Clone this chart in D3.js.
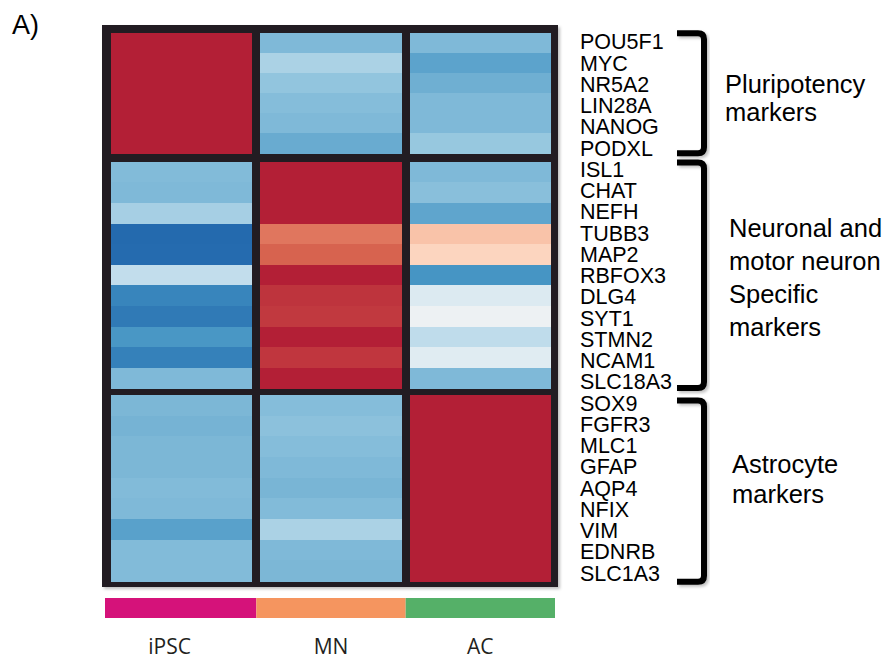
<!DOCTYPE html>
<html>
<head>
<meta charset="utf-8">
<script src="https://cdn.jsdelivr.net/npm/d3@7"></script>
<style>
  html, body { margin: 0; padding: 0; background: #ffffff; }
  svg { display: block; }
</style>
</head>
<body>
<svg id="chart" width="896" height="662"></svg>
<script>
// Samples (columns)
const samples = ["iPSC", "MN", "AC"];

// Marker genes, grouped by cell type
const pluripotencyGenes = ["POU5F1", "MYC", "NR5A2", "LIN28A", "NANOG", "PODXL"];
const neuronalGenes = ["ISL1", "CHAT", "NEFH", "TUBB3", "MAP2", "RBFOX3", "DLG4", "SYT1", "STMN2", "NCAM1", "SLC18A3"];
const astrocyteGenes = ["SOX9", "FGFR3", "MLC1", "GFAP", "AQP4", "NFIX", "VIM", "EDNRB", "SLC1A3"];

// Scaled expression per sample, in gene order (pluripotency, neuronal, astrocyte)
const iPSCValues = [
  1, 1, 1, 1, 1, 1,
  -0.55, -0.56, -0.42, -0.98, -0.97, -0.31, -0.83, -0.89, -0.73, -0.85, -0.56,
  -0.57, -0.59, -0.57, -0.57, -0.55, -0.56, -0.68, -0.55, -0.55
];
const MNValues = [
  -0.56, -0.40, -0.50, -0.54, -0.56, -0.63,
  1, 1, 1, 0.67, 0.74, 1, 0.92, 0.90, 1, 0.91, 1,
  -0.54, -0.52, -0.54, -0.56, -0.58, -0.55, -0.40, -0.56, -0.57
];
const ACValues = [
  -0.56, -0.67, -0.61, -0.56, -0.56, -0.48,
  -0.56, -0.53, -0.66, 0.36, 0.28, -0.74, -0.17, -0.05, -0.32, -0.14, -0.56,
  1, 1, 1, 1, 1, 1, 1, 1, 1
];

// Group captions beside the brackets
const groupLabels = [
  ["Pluripotency", "markers"],
  ["Neuronal and", "motor neuron", "Specific", "markers"],
  ["Astrocyte", "markers"]
];

const groups = [pluripotencyGenes, neuronalGenes, astrocyteGenes];
const allGenes = groups.flat();
const valuesBySample = [iPSCValues, MNValues, ACValues];

const svg = d3.select("#chart");
const frameColor = "#231f20";

// Diverging blue-white-red colour scale
const color = d3.scaleLinear()
  .domain([-1, -0.75, -0.5, -0.25, 0, 0.25, 0.5, 0.75, 1])
  .range(["#2166ac", "#4393c3", "#92c5de", "#d1e5f0", "#f4f4f4", "#fddbc7", "#f4a582", "#d6604d", "#b31f36"])
  .clamp(true);

// Soft shadow used by the frame and brackets
const defs = svg.append("defs");
const shadow = defs.append("filter").attr("id", "shadow")
  .attr("x", "-10%").attr("y", "-10%").attr("width", "130%").attr("height", "130%");
shadow.append("feDropShadow")
  .attr("dx", 2).attr("dy", 2).attr("stdDeviation", 1.5)
  .attr("flood-color", "#000").attr("flood-opacity", 0.25);

// Column scale
const x = d3.scaleBand().domain(samples).range([111, 551]).paddingInner(0.054);

// One vertical band scale per gene group (groups separated by frame bars)
const sectionRanges = [[33, 153.3], [161.7, 388.3], [395, 581]];
const yScales = groups.map((g, i) => d3.scaleBand().domain(g).range(sectionRanges[i]));

// Dark frame behind the cells
svg.append("rect")
  .attr("x", x.range()[0] - 9)
  .attr("y", sectionRanges[0][0] - 8)
  .attr("width", x.range()[1] - x.range()[0] + 16)
  .attr("height", sectionRanges[2][1] - sectionRanges[0][0] + 14)
  .attr("fill", frameColor)
  .attr("filter", "url(#shadow)");

// Heatmap cells
const cells = [];
groups.forEach((g, gi) => {
  g.forEach(gene => {
    const idx = allGenes.indexOf(gene);
    samples.forEach((s, si) => {
      cells.push({ gene, sample: s, group: gi, value: valuesBySample[si][idx] });
    });
  });
});

svg.append("g").selectAll("rect")
  .data(cells)
  .join("rect")
  .attr("x", d => x(d.sample))
  .attr("y", d => yScales[d.group](d.gene))
  .attr("width", x.bandwidth())
  .attr("height", d => yScales[d.group].bandwidth() + 0.5)
  .attr("fill", d => color(d.value))
  .attr("shape-rendering", "crispEdges");

// Gene names, evenly spaced down the right side
const yLabel = d3.scalePoint().domain(allGenes).range([41.5, 573]);
svg.append("g")
  .attr("font-family", "'Liberation Sans', Arial, Helvetica, sans-serif")
  .attr("font-size", 21.5)
  .attr("fill", "#000")
  .selectAll("text")
  .data(allGenes)
  .join("text")
  .attr("x", 580)
  .attr("y", d => yLabel(d))
  .attr("dy", "0.36em")
  .text(d => d);

// Brackets spanning each gene group
const bracketRanges = [[33.3, 153.3], [162.5, 388], [400.5, 581.7]];
const bx0 = 677, bx1 = 704, br = 6;
svg.append("g")
  .attr("filter", "url(#shadow)")
  .selectAll("path")
  .data(bracketRanges)
  .join("path")
  .attr("d", ([y0, y1]) =>
    `M${bx0},${y0} H${bx1 - br} Q${bx1},${y0} ${bx1},${y0 + br} V${y1 - br} Q${bx1},${y1} ${bx1 - br},${y1} H${bx0}`)
  .attr("fill", "none")
  .attr("stroke", "#000")
  .attr("stroke-width", 6);

// Group captions
const captionLayout = [
  { x: 725, y: 93.3, step: 28 },
  { x: 729, y: 237.3, step: 33 },
  { x: 732, y: 473.3, step: 30 }
];
const captions = svg.append("g")
  .attr("font-family", "'Liberation Sans', Arial, Helvetica, sans-serif")
  .attr("font-size", 25.5)
  .attr("fill", "#000");
groupLabels.forEach((lines, i) => {
  const L = captionLayout[i];
  captions.append("text")
    .attr("x", L.x)
    .attr("y", L.y)
    .selectAll("tspan")
    .data(lines)
    .join("tspan")
    .attr("x", L.x)
    .attr("dy", (d, j) => j === 0 ? 0 : L.step)
    .text(d => d);
});

// Sample colour bar under the heatmap
const sampleColors = d3.scaleOrdinal().domain(samples).range(["#d5127a", "#f5955f", "#55b068"]);
const step = x.step();
const gap = step - x.bandwidth();
const segX0 = s => samples.indexOf(s) === 0 ? x(s) - 6 : x(s) - gap / 2;
const segX1 = s => samples.indexOf(s) === samples.length - 1 ? x(s) + x.bandwidth() + 4 : x(s) + x.bandwidth() + gap / 2;

svg.append("g").selectAll("rect")
  .data(samples)
  .join("rect")
  .attr("x", d => segX0(d))
  .attr("y", 598)
  .attr("width", d => segX1(d) - segX0(d))
  .attr("height", 20)
  .attr("fill", d => sampleColors(d));

svg.append("g")
  .attr("font-family", "'Open Sans', 'Noto Sans', sans-serif")
  .attr("font-size", 21)
  .attr("fill", frameColor)
  .attr("text-anchor", "middle")
  .selectAll("text")
  .data(samples)
  .join("text")
  .attr("x", d => (segX0(d) + segX1(d)) / 2 - (d === "iPSC" ? 11 : 0))
  .attr("y", 654)
  .text(d => d);

// Panel letter
svg.append("text")
  .attr("x", 12)
  .attr("y", 34)
  .attr("font-family", "'Liberation Sans', Arial, Helvetica, sans-serif")
  .attr("font-size", 27)
  .attr("fill", "#000")
  .text("A)");
</script>
</body>
</html>
